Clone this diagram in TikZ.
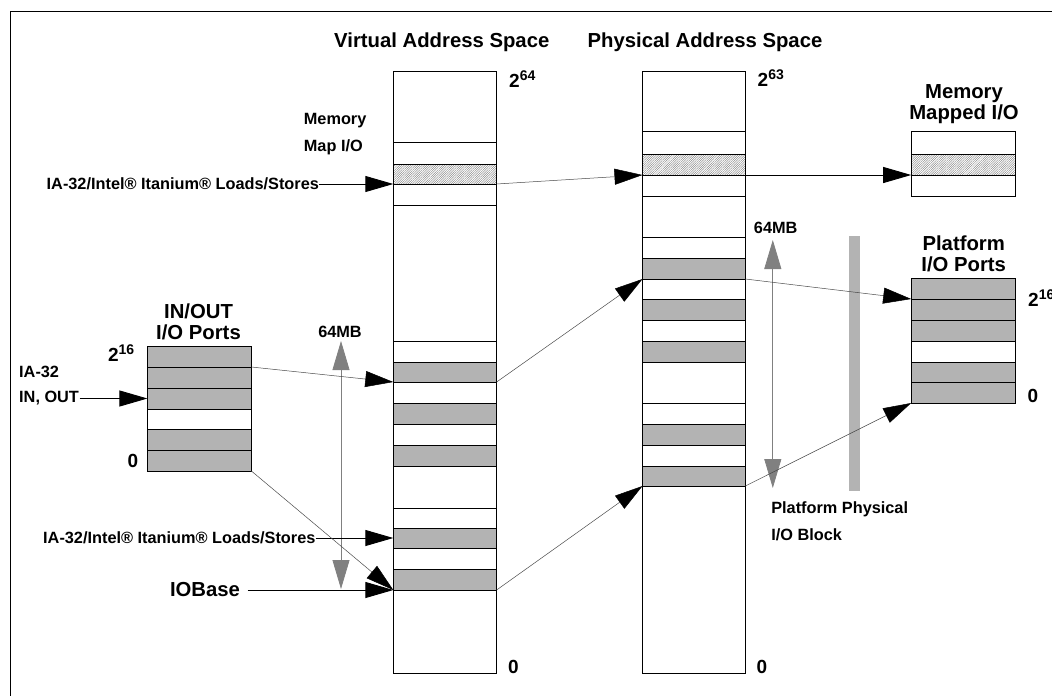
\documentclass[tikz,border=0pt]{standalone}
\usepackage{fontspec}
\setmainfont{Liberation Sans}
\usepackage{tikz}
\usetikzlibrary{arrows.meta,patterns.meta}
\usepackage{xcolor}
\definecolor{bandgray}{HTML}{B3B3B3}
\definecolor{rulergray}{HTML}{808080}
\definecolor{linkgray}{HTML}{4A4A4A}
\newcommand{\upnum}[1]{\raisebox{7pt}{\fontsize{14}{14}\selectfont #1}}

\begin{document}
\begin{tikzpicture}[
    x=1pt, y=-1pt,
    wband/.style={
      draw=black, line width=0.9pt, fill=white,
      minimum width=103pt, minimum height=#1 pt,
      inner sep=0pt, outer sep=0pt, anchor=north west
    },
    gband/.style={wband=#1, fill=bandgray},
    hband/.style={wband=#1,
      pattern={Lines[angle=45,distance=1.6pt,line width=0.35pt]}, pattern color=black!55},
    big/.style={font=\fontsize{20.3}{20.5}\selectfont\bfseries, inner sep=0pt, align=center},
    small/.style={font=\fontsize{16.3}{27}\selectfont\bfseries, inner sep=0pt, align=left},
    num/.style={font=\fontsize{19}{20}\selectfont\bfseries, inner sep=0pt, anchor=base west},
    feed/.style={-{Triangle[length=28pt,width=16pt]}, line width=0.9pt},
    link/.style={-{Triangle[length=28pt,width=16pt,color=black]}, line width=0.5pt, draw=linkgray},
    span/.style={{Triangle[length=29pt,width=17pt]}-{Triangle[length=29pt,width=17pt]},
      line width=0.8pt, draw=rulergray, fill=rulergray},
  ]
  \useasboundingbox (0,0) rectangle (1052,696);

  % Frame
  \draw[line width=1pt] (1052,11) -- (10.3,11) -- (10.3,696);

  % =================== Titles ===================
  \node[big] (vtitle) at (441.8,42) {Virtual Address Space};
  \node[big] (ptitle) at (705,42) {Physical Address Space};

  % =================== Virtual address space ===================
  \node[wband=602, minimum width=103.3pt] (vas) at (393.3,71) {};
  \foreach \t/\h [count=\i] in {142/22,184/21,341/21,382/21,424/21,508/20,548/21}
    \node[wband=\h, minimum width=103.3pt] (vw\i) at (393.3,\t) {};
  \foreach \t/\h [count=\i] in {362/20,403/21,445/21,528/20,569/21}
    \node[gband=\h, minimum width=103.3pt] (vg\i) at (393.3,\t) {};
  \node[hband=20, minimum width=103.3pt] (vh) at (393.3,164) {};

  \node[num] (v64) at (509,87) {2\upnum{64}};
  \node[num] (v0) at (508,673) {0};
  \node[small, anchor=west] (mmap) at (303.7,134) {Memory\\Map I/O};

  % =================== Physical address space ===================
  \node[wband=602, minimum width=102.8pt] (pas) at (642.5,71) {};
  \foreach \t/\h [count=\i] in {131/23,175/21,237/21,279/20,320/21,403/21,445/21}
    \node[wband=\h, minimum width=102.8pt] (pw\i) at (642.5,\t) {};
  \foreach \t/\h [count=\i] in {258/21,299/21,341/21,424/21,466/20}
    \node[gband=\h, minimum width=102.8pt] (pg\i) at (642.5,\t) {};
  \node[hband=21, minimum width=102.8pt] (ph) at (642.5,154) {};

  \node[num] (p63) at (757.5,86) {2\upnum{63}};
  \node[num] (p0) at (756.5,673) {0};

  % =================== Memory mapped I/O ===================
  \node[big] (mtitle) at (964,104) {Memory\\Mapped I/O};
  \node[wband=23, minimum width=104.2pt] (mw1) at (911.2,131) {};
  \node[hband=21, minimum width=104.2pt] (mh) at (911.2,154) {};
  \node[wband=21, minimum width=104.2pt] (mw2) at (911.2,175) {};

  % =================== Platform I/O ports ===================
  \node[big] (pltitle) at (963.7,254) {Platform\\I/O Ports};
  \foreach \t/\h/\n in {278/21/1,299/21/2,320/21/3,362/20/5,382/21/6}
    \node[gband=\h, minimum width=104.2pt] (pp\n) at (911.2,\t) {};
  \node[wband=21, minimum width=104.2pt] (pp4) at (911.2,341) {};
  \node[num] (pl16) at (1028,306) {2\upnum{16}};
  \node[num] (pl0) at (1027.3,402) {0};

  % Platform physical I/O block
  \node[fill=bandgray, inner sep=0pt, minimum width=10.5pt, minimum height=255pt,
    anchor=north west] (iobar) at (849.2,236) {};
  \node[small, anchor=west] (pblock) at (771.1,521.5) {Platform Physical\\I/O Block};

  % =================== IN/OUT I/O ports ===================
  \node[big] (iotitle) at (198.5,322) {IN/OUT\\I/O Ports};
  \foreach \t/\h/\n in {346/21/1,367/21/2,388/21/3,429/21/5,450/21/6}
    \node[gband=\h, minimum width=104pt] (io\n) at (147.4,\t) {};
  \node[wband=20, minimum width=104pt] (io4) at (147.4,409) {};
  \node[num] (io16) at (107.8,361) {2\upnum{16}};
  \node[num] (io0) at (127.4,467) {0};

  \node[small, anchor=west] (ia32) at (19,372) {IA-32};
  \node[small, anchor=west] (inout) at (19,398.5) {IN, OUT};

  % =================== Access labels ===================
  \node[small, anchor=west] (ldst1) at (46.5,184) {IA-32/Intel® Itanium® Loads/Stores};
  \node[small, anchor=west] (ldst2) at (43,538) {IA-32/Intel® Itanium® Loads/Stores};
  \node[big, anchor=west] (iobase) at (169.8,590) {IOBase};

  % =================== 64MB spans ===================
  \node[small] (vmb) at (340,332) {64MB};
  \coordinate (vtop) at (341,341);
  \coordinate (vbot) at (341,589);
  \draw[span] (vtop) -- (vbot);

  \node[small] (pmb) at (775.7,228) {64MB};
  \coordinate (ptop) at (772.8,240);
  \coordinate (pbot) at (772.8,488);
  \draw[span] (ptop) -- (pbot);

  % =================== Connectors ===================
  \draw[feed] (ldst1.east) -- (vh.south west);
  \draw[link] (vh.south east) -- (ph.south west);
  \draw[feed] (ph.south east) -- (mh.south west);

  \draw[feed] ([xshift=0.5pt]inout.east) -- (io3.west);
  \draw[link] (io2.north east) -- (vg1.south west);
  \draw[link] (vg1.south east) -- (pg1.south west);
  \draw[link] (pg1.south east) -- (pp1.south west);

  \draw[feed] (ldst2.east) -- (vg4.west);
  \draw[link] (io6.south east) -- (vg5.south west);
  \draw[feed] ([xshift=7.4pt]iobase.east) -- (vg5.south west);
  \draw[link] (vg5.south east) -- (pg5.south west);
  \draw[link] (pg5.south east) -- (pp6.south west);

\end{tikzpicture}
\end{document}
